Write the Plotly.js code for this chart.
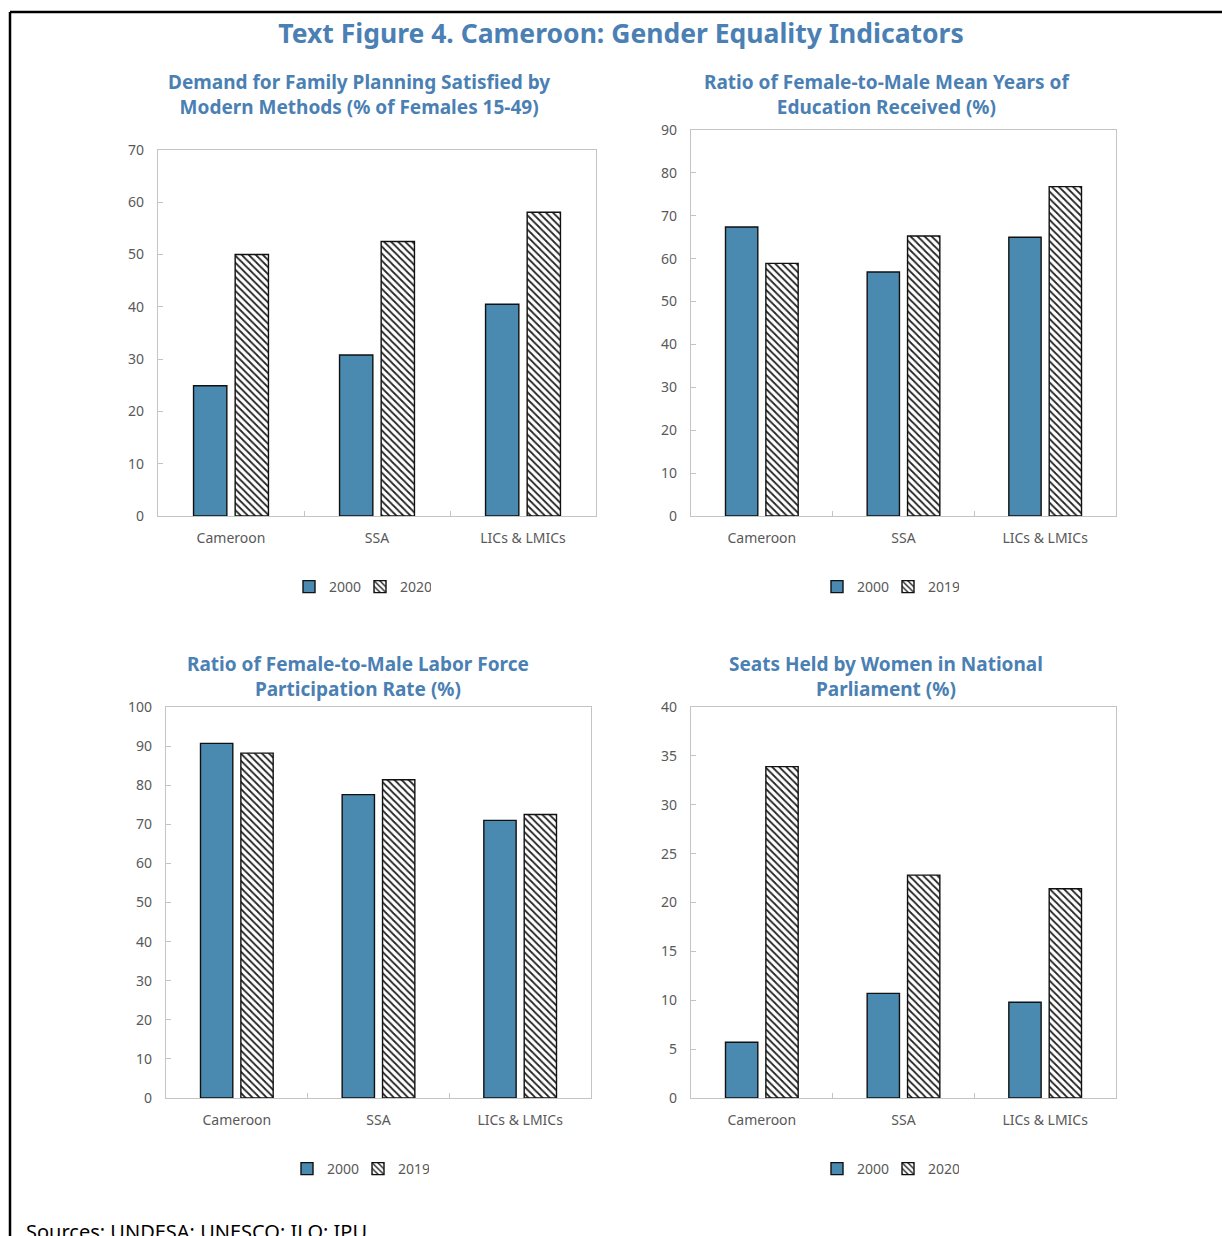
<!DOCTYPE html>
<html>
<head>
<meta charset="utf-8">
<script src="https://cdn.plot.ly/plotly-3.0.1.min.js"></script>
<style>
  html, body { margin: 0; padding: 0; background: #ffffff; }
  #chart { width: 1222px; height: 1236px; }
</style>
</head>
<body>
<div id="chart"></div>
<script>
// ---- data ----
const regions = ["Cameroon", "SSA", "LICs & LMICs"];

const planning2000 = [24.9, 30.8, 40.5];
const planning2020 = [50.0, 52.5, 58.1];

const education2000 = [67.4, 56.9, 65.0];
const education2019 = [58.9, 65.3, 76.8];

const labor2000 = [90.7, 77.6, 71.0];
const labor2019 = [88.2, 81.4, 72.5];

const seats2000 = [5.7, 10.7, 9.8];
const seats2020 = [33.9, 22.8, 21.4];

const figureTitle = "Text Figure 4. Cameroon: Gender Equality Indicators";
const panelTitles = [
  "Demand for Family Planning Satisfied by<br>Modern Methods (% of Females 15-49)",
  "Ratio of Female-to-Male Mean Years of<br>Education Received (%)",
  "Ratio of Female-to-Male Labor Force<br>Participation Rate (%)",
  "Seats Held by Women in National<br>Parliament (%)"
];
const sourceNote = "Sources: UNDESA; UNESCO; ILO; IPU.";

// ---- layout helpers (pixel boxes on a 1222 x 1236 page) ----
const W = 1222, H = 1236;
const px = x => x / W;
const py = y => 1 - y / H;

const FONT = "'Noto Sans', 'Open Sans', 'DejaVu Sans', sans-serif";
const TITLE_BLUE = "#4A80B3";
const BAR_BLUE = "#4A8AB0";
const GREY_TEXT = "#595959";
const FRAME = "#c4c4c4";

const panels = [
  { box: [158, 596, 150, 516], max: 70,  dtick: 10, a: planning2000,  b: planning2020,  later: "2020",
    title: [359, 94], legend: [360, 587] },
  { box: [691, 1116, 130, 516], max: 90, dtick: 10, a: education2000, b: education2019, later: "2019",
    title: [887, 94], legend: [888, 587] },
  { box: [166, 591, 707, 1098], max: 100, dtick: 10, a: labor2000,   b: labor2019,     later: "2019",
    title: [358, 676], legend: [358, 1169] },
  { box: [691, 1116, 707, 1098], max: 40, dtick: 5,  a: seats2000,   b: seats2020,     later: "2020",
    title: [886, 676], legend: [888, 1169] }
];

const traces = [];
const layout = {
  width: W, height: H,
  margin: { l: 0, r: 0, t: 0, b: 0 },
  paper_bgcolor: "#ffffff",
  plot_bgcolor: "#ffffff",
  barmode: "group",
  bargap: 0.43,
  bargroupgap: 0.2,
  font: { family: FONT, color: GREY_TEXT, size: 14 },
  title: {
    text: "<b>" + figureTitle + "</b>",
    x: px(621), xanchor: "center",
    y: py(34), yanchor: "middle",
    font: { family: FONT, size: 26.5, color: TITLE_BLUE }
  },
  annotations: [],
  shapes: []
};

panels.forEach((p, i) => {
  const n = i + 1;
  const xa = "x" + (n > 1 ? n : "");
  const ya = "y" + (n > 1 ? n : "");
  const lg = "legend" + (n > 1 ? n : "");

  traces.push({
    type: "bar", name: "2000", x: regions, y: p.a,
    xaxis: xa, yaxis: ya, legend: lg,
    marker: { color: BAR_BLUE, line: { color: "#111111", width: 1.4 } },
    hoverinfo: "x+y+name"
  });
  traces.push({
    type: "bar", name: p.later, x: regions, y: p.b,
    xaxis: xa, yaxis: ya, legend: lg,
    marker: {
      color: "#ffffff",
      line: { color: "#111111", width: 1.4 },
      pattern: { shape: "\\", fgcolor: "#222222", bgcolor: "#ffffff", size: 5, solidity: 0.35 }
    },
    hoverinfo: "x+y+name"
  });

  const [x0, x1, y0, y1] = p.box;
  const axKey = "xaxis" + (n > 1 ? n : "");
  const ayKey = "yaxis" + (n > 1 ? n : "");

  layout[axKey] = {
    domain: [px(x0), px(x1)],
    anchor: ya,
    type: "category",
    showline: true, linecolor: FRAME, linewidth: 1.2, mirror: true,
    ticks: "inside", tickson: "boundaries", ticklen: 5, tickcolor: FRAME,
    ticklabelstandoff: 9,
    showgrid: false, zeroline: false,
    tickfont: { family: FONT, size: 14, color: GREY_TEXT },
    fixedrange: true
  };
  layout[ayKey] = {
    domain: [py(y1), py(y0)],
    anchor: xa,
    range: [0, p.max], dtick: p.dtick, tick0: 0,
    showline: true, linecolor: FRAME, linewidth: 1.2, mirror: true,
    ticks: "inside", ticklen: 5, tickcolor: FRAME,
    ticklabelstandoff: 10,
    showgrid: false, zeroline: false,
    tickfont: { family: FONT, size: 14, color: GREY_TEXT },
    fixedrange: true
  };

  layout[lg] = {
    orientation: "h",
    x: px(p.legend[0]), xanchor: "center",
    y: py(p.legend[1]), yanchor: "middle",
    font: { family: FONT, size: 14, color: GREY_TEXT },
    bgcolor: "rgba(0,0,0,0)",
    itemwidth: 30,
    entrywidth: 26,
    tracegroupgap: 0,
    traceorder: "normal"
  };

  layout.annotations.push({
    xref: "paper", yref: "paper",
    x: px(p.title[0]), y: py(p.title[1]),
    xanchor: "center", yanchor: "middle",
    text: "<b>" + panelTitles[i] + "</b>",
    showarrow: false,
    font: { family: FONT, size: 19, color: TITLE_BLUE }
  });
});

// source line at the foot of the page
layout.annotations.push({
  xref: "paper", yref: "paper",
  x: px(24), y: py(1231),
  xanchor: "left", yanchor: "middle",
  text: sourceNote,
  showarrow: false,
  font: { family: FONT, size: 20, color: "#000000" }
});

// page frame: top rule and left rule
layout.shapes.push(
  { type: "line", xref: "paper", yref: "paper", x0: px(10), x1: 1, y0: py(12), y1: py(12),
    line: { color: "#000000", width: 2.5 } },
  { type: "line", xref: "paper", yref: "paper", x0: px(10), x1: px(10), y0: py(12), y1: 0,
    line: { color: "#000000", width: 2.5 } }
);

Plotly.newPlot("chart", traces, layout, { displayModeBar: false, staticPlot: true });
</script>
</body>
</html>
